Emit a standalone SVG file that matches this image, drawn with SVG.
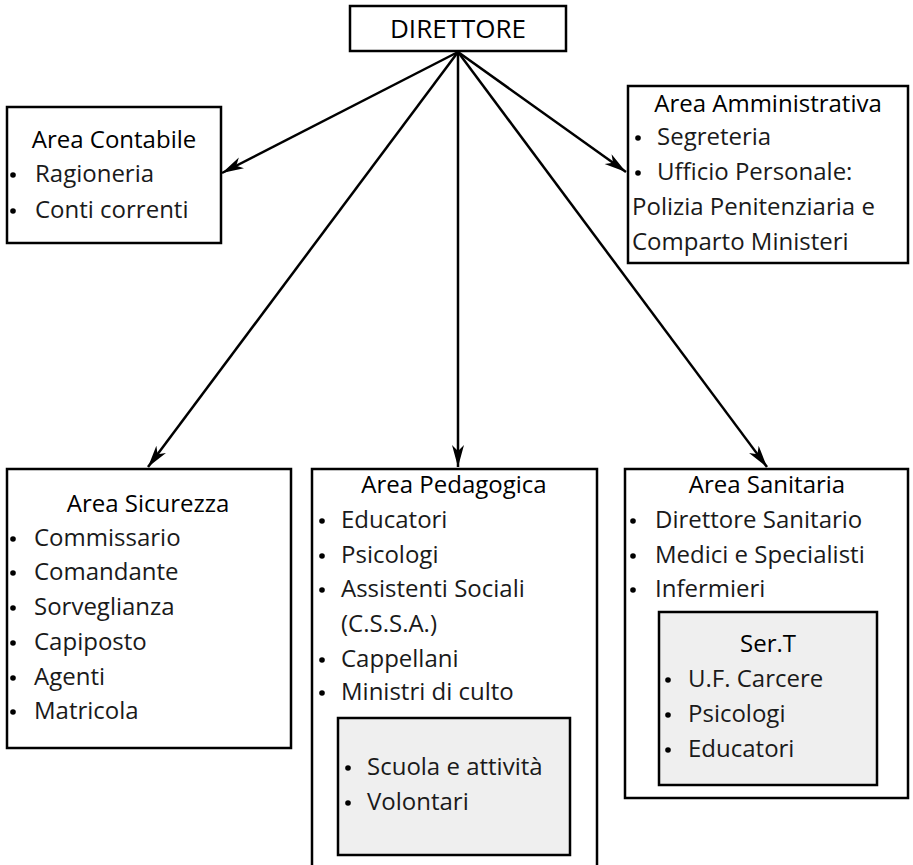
<svg xmlns="http://www.w3.org/2000/svg" width="913" height="865" viewBox="0 0 913 865">
<style>
.box{fill:#fff;stroke:#000;stroke-width:2.5}
.inner{fill:#efefef;stroke:#000;stroke-width:2.5}
text{font-family:"Open Sans","Noto Sans","DejaVu Sans",sans-serif;font-size:24px;fill:#1a1a1a}
.t{fill:#000;text-anchor:middle}
.c{stroke:#000;stroke-width:2.5;fill:none;marker-end:url(#ah)}
.b{fill:#000}
</style>
<defs>
<marker id="ah" markerUnits="userSpaceOnUse" markerWidth="24" markerHeight="14" refX="22" refY="6" orient="auto">
<path d="M0,0 L22,6 L0,12 L6,6 z" fill="#000"/>
</marker>
</defs>
<g id="connectors">
<line class="c" x1="458" y1="52" x2="222" y2="173"/>
<line class="c" x1="458" y1="52" x2="626" y2="172"/>
<line class="c" x1="458" y1="52" x2="148" y2="467"/>
<line class="c" x1="458" y1="52" x2="458" y2="467"/>
<line class="c" x1="458" y1="52" x2="767" y2="467"/>
</g>
<g id="direttore">
<rect class="box" x="350" y="6" width="216" height="45"/>
<text class="t" x="458" y="38" style="font-size:26px">DIRETTORE</text>
</g>
<g id="contabile">
<rect class="box" x="7" y="107" width="214" height="136"/>
<text class="t" x="114" y="148">Area Contabile</text>
<circle class="b" cx="13" cy="175" r="2.8"/><text x="35" y="182">Ragioneria</text>
<circle class="b" cx="13" cy="211" r="2.8"/><text x="35" y="218">Conti correnti</text>
</g>
<g id="amministrativa">
<rect class="box" x="628" y="86" width="280" height="177"/>
<text class="t" x="768" y="112">Area Amministrativa</text>
<circle class="b" cx="638" cy="138" r="2.8"/><text x="657" y="145">Segreteria</text>
<circle class="b" cx="638" cy="173" r="2.8"/><text x="657" y="180">Ufficio Personale:</text>
<text x="632" y="215">Polizia Penitenziaria e</text>
<text x="632" y="250">Comparto Ministeri</text>
</g>
<g id="sicurezza">
<rect class="box" x="7" y="469" width="284" height="279"/>
<text class="t" x="148" y="512">Area Sicurezza</text>
<circle class="b" cx="13" cy="539" r="2.8"/><text x="34" y="546">Commissario</text>
<circle class="b" cx="13" cy="573" r="2.8"/><text x="34" y="580">Comandante</text>
<circle class="b" cx="13" cy="608" r="2.8"/><text x="34" y="615">Sorveglianza</text>
<circle class="b" cx="13" cy="643" r="2.8"/><text x="34" y="650">Capiposto</text>
<circle class="b" cx="13" cy="678" r="2.8"/><text x="34" y="685">Agenti</text>
<circle class="b" cx="13" cy="712" r="2.8"/><text x="34" y="719">Matricola</text>
</g>
<g id="pedagogica">
<rect class="box" x="312" y="469" width="285" height="420"/>
<text class="t" x="454" y="493">Area Pedagogica</text>
<circle class="b" cx="322" cy="521" r="2.8"/><text x="341" y="528">Educatori</text>
<circle class="b" cx="322" cy="556" r="2.8"/><text x="341" y="563">Psicologi</text>
<circle class="b" cx="322" cy="590" r="2.8"/><text x="341" y="597">Assistenti Sociali</text>
<text x="341" y="632">(C.S.S.A.)</text>
<circle class="b" cx="322" cy="660" r="2.8"/><text x="341" y="667">Cappellani</text>
<circle class="b" cx="322" cy="693" r="2.8"/><text x="341" y="700">Ministri di culto</text>
<g id="scuola">
<rect class="inner" x="338" y="718" width="232" height="137"/>
<circle class="b" cx="348" cy="768" r="2.8"/><text x="367" y="775">Scuola e attività</text>
<circle class="b" cx="348" cy="803" r="2.8"/><text x="367" y="810">Volontari</text>
</g>
</g>
<g id="sanitaria">
<rect class="box" x="625" y="469" width="283" height="329"/>
<text class="t" x="767" y="493">Area Sanitaria</text>
<circle class="b" cx="633" cy="521" r="2.8"/><text x="655" y="528">Direttore Sanitario</text>
<circle class="b" cx="633" cy="556" r="2.8"/><text x="655" y="563">Medici e Specialisti</text>
<circle class="b" cx="633" cy="590" r="2.8"/><text x="655" y="597">Infermieri</text>
<g id="sert">
<rect class="inner" x="659" y="612" width="218" height="173"/>
<text class="t" x="768" y="652">Ser.T</text>
<circle class="b" cx="668" cy="680" r="2.8"/><text x="688" y="687">U.F. Carcere</text>
<circle class="b" cx="668" cy="715" r="2.8"/><text x="688" y="722">Psicologi</text>
<circle class="b" cx="668" cy="750" r="2.8"/><text x="688" y="757">Educatori</text>
</g>
</g>
</svg>
